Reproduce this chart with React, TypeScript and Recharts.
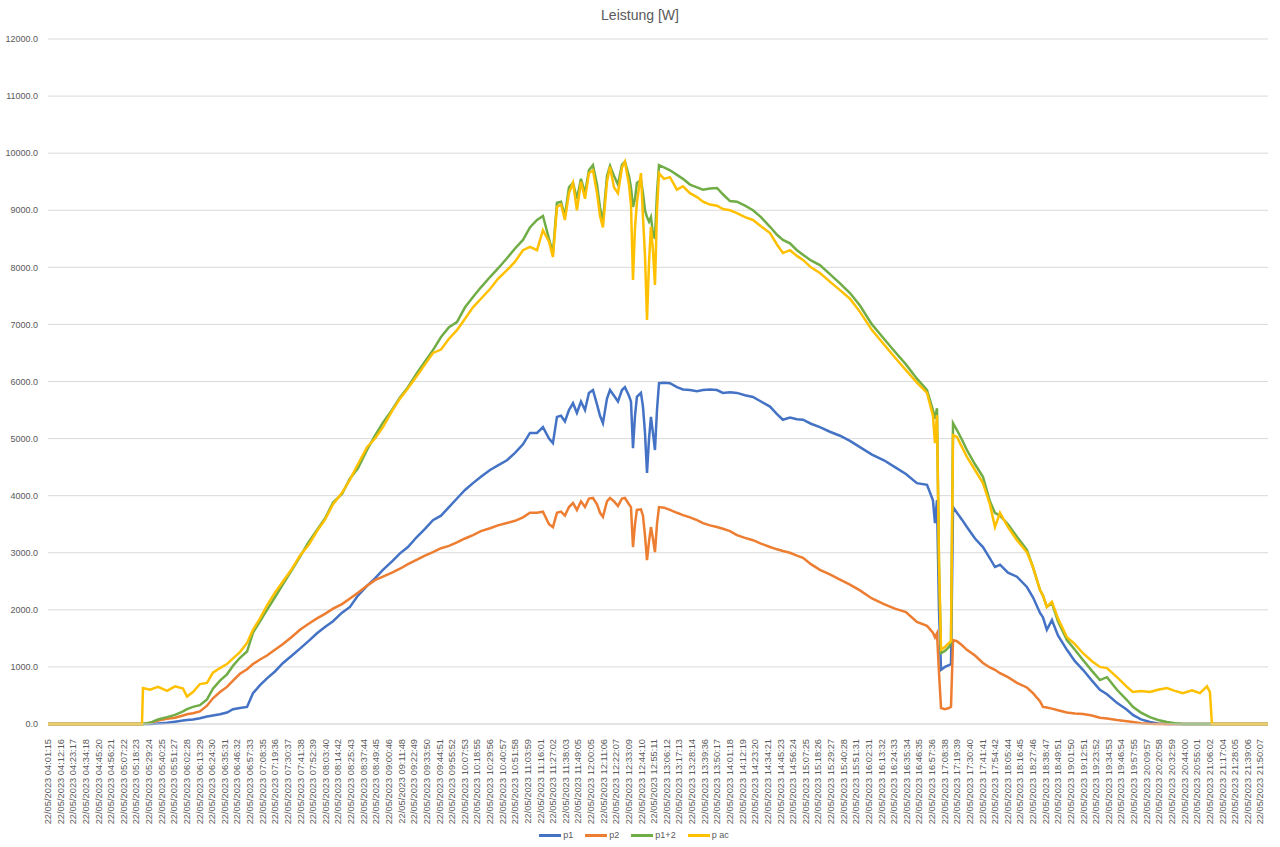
import { LineChart, Line, XAxis, YAxis, CartesianGrid, Legend } from 'recharts';

const tickLabels = [
  '04:01:15', '04:12:16', '04:23:17', '04:34:18', '04:45:20', '04:56:21', '05:07:22', '05:18:23',
  '05:29:24', '05:40:25', '05:51:27', '06:02:28', '06:13:29', '06:24:30', '06:35:31', '06:46:32',
  '06:57:33', '07:08:35', '07:19:36', '07:30:37', '07:41:38', '07:52:39', '08:03:40', '08:14:42',
  '08:25:43', '08:37:44', '08:49:45', '09:00:46', '09:11:48', '09:22:49', '09:33:50', '09:44:51',
  '09:55:52', '10:07:53', '10:18:55', '10:29:56', '10:40:57', '10:51:58', '11:03:59', '11:16:01',
  '11:27:02', '11:38:03', '11:49:05', '12:00:05', '12:11:06', '12:22:07', '12:33:09', '12:44:10',
  '12:55:11', '13:06:12', '13:17:13', '13:28:14', '13:39:36', '13:50:17', '14:01:18', '14:12:19',
  '14:23:20', '14:34:21', '14:45:23', '14:56:24', '15:07:25', '15:18:26', '15:29:27', '15:40:28',
  '15:51:31', '16:02:31', '16:13:32', '16:24:33', '16:35:34', '16:46:35', '16:57:36', '17:08:38',
  '17:19:39', '17:30:40', '17:41:41', '17:54:42', '18:05:44', '18:16:45', '18:27:46', '18:38:47',
  '18:49:51', '19:01:50', '19:12:51', '19:23:52', '19:34:53', '19:46:54', '19:57:55', '20:09:57',
  '20:20:58', '20:32:59', '20:44:00', '20:55:01', '21:06:02', '21:17:04', '21:28:05', '21:39:06',
  '21:50:07',
].map((t) => `22/05/2023 ${t}`);

// position of each sample, measured in tick-label slots (0 = first label)
const slot = [
  0, 7.44, 7.52, 8.08, 8.71, 9.42, 10.06, 10.69, 11.01, 11.48,
  12.03, 12.59, 13.06, 13.62, 14.17, 14.65, 15.2, 15.76, 16.23, 16.79,
  17.34, 17.97, 18.61, 19.32, 19.95, 20.67, 21.3, 21.93, 22.57, 23.28,
  23.91, 24.54, 25.26, 25.89, 26.52, 27.24, 27.87, 28.5, 29.22, 29.85,
  30.48, 31.12, 31.75, 32.38, 33.02, 33.65, 34.28, 35.0, 35.63, 36.34,
  36.98, 37.61, 38.16, 38.72, 39.19, 39.67, 39.98, 40.3, 40.62, 40.93,
  41.25, 41.57, 41.88, 42.2, 42.52, 42.83, 43.15, 43.47, 43.71, 43.94,
  44.26, 44.5, 44.82, 45.13, 45.45, 45.68, 46.0, 46.16, 46.32, 46.48,
  46.63, 46.95, 47.11, 47.27, 47.43, 47.59, 47.74, 47.9, 48.06, 48.22,
  48.38, 48.77, 49.25, 49.8, 50.28, 50.83, 51.39, 51.86, 52.42, 52.97,
  53.44, 54.0, 54.55, 55.19, 55.82, 56.45, 57.17, 57.72, 58.19, 58.75,
  59.3, 59.78, 60.41, 61.12, 61.91, 62.71, 63.5, 64.29, 65.24, 66.19,
  67.06, 67.93, 68.8, 69.6, 70.07, 70.23, 70.39, 70.55, 70.71, 71.02,
  71.34, 71.5, 71.66, 71.97, 72.37, 72.76, 73.4, 74.03, 74.58, 74.98,
  75.38, 76.01, 76.72, 77.51, 77.99, 78.54, 78.78, 79.09, 79.49, 79.97,
  80.68, 81.31, 81.95, 82.66, 83.29, 83.85, 84.64, 85.43, 85.9, 86.54,
  87.25, 87.89, 88.6, 89.23, 89.86, 90.58, 91.21, 91.77, 92.0, 92.16,
  96.6,
];

const p1 = [
  0, 0, 0, 0, 10, 20, 40, 60, 70, 80,
  100, 130, 150, 170, 200, 260, 280, 300, 540, 680,
  800, 920, 1070, 1200, 1320, 1460, 1590, 1700, 1800, 1950,
  2050, 2250, 2420, 2550, 2700, 2850, 2990, 3100, 3280, 3420,
  3570, 3650, 3800, 3950, 4100, 4220, 4330, 4450, 4530, 4620,
  4750, 4900, 5100, 5100, 5200, 5000, 4920, 5380, 5400, 5300,
  5500, 5620, 5450, 5650, 5500, 5800, 5850, 5600, 5400, 5270,
  5700, 5850, 5750, 5650, 5850, 5900, 5750, 5650, 4830, 5400,
  5730, 5800, 5560, 5100, 4400, 5000, 5380, 5100, 4800, 5500,
  5970, 5980, 5970, 5900, 5860, 5850, 5830, 5850, 5860, 5850,
  5800, 5810, 5800, 5760, 5730, 5650, 5560, 5430, 5330, 5370,
  5340, 5330, 5260, 5200, 5120, 5050, 4960, 4850, 4720, 4620,
  4500, 4380, 4220, 4190, 3920, 3520, 3920, 2000, 950, 1000,
  1030, 1050, 3800, 3700, 3580, 3450, 3250, 3100, 2900, 2750,
  2790, 2650, 2580, 2400, 2220, 1950, 1870, 1650, 1820, 1550,
  1300, 1100, 950, 760, 600, 520, 370, 250, 160, 80,
  35, 10, 0, 0, 0, 0, 0, 0, 0, 0,
  0,
];

const p2 = [
  0, 0, 0, 20, 60, 90, 110, 150, 170, 190,
  220, 320, 450, 560, 650, 760, 880, 960, 1050, 1130,
  1200, 1300, 1400, 1530, 1650, 1760, 1850, 1930, 2020, 2100,
  2200, 2300, 2420, 2520, 2580, 2650, 2720, 2800, 2880, 2950,
  3010, 3080, 3120, 3180, 3250, 3310, 3380, 3430, 3480, 3520,
  3560, 3620, 3700, 3700, 3720, 3500, 3450, 3700, 3720, 3650,
  3800, 3870, 3750, 3900, 3800, 3950, 3960, 3850, 3700, 3630,
  3900, 3960, 3900, 3820, 3950, 3960, 3850, 3800, 3100, 3500,
  3750, 3760, 3650, 3300, 2870, 3200, 3450, 3250, 3010, 3500,
  3800, 3790, 3750, 3700, 3660, 3620, 3570, 3520, 3480, 3450,
  3420, 3380, 3310, 3260, 3220, 3160, 3100, 3060, 3030, 3000,
  2950, 2910, 2800, 2700, 2620, 2530, 2440, 2340, 2200, 2100,
  2020, 1960, 1790, 1720, 1600, 1520, 1590, 900, 280, 260,
  280, 300, 1470, 1450, 1380, 1300, 1200, 1070, 990, 950,
  890, 820, 720, 640, 540, 400, 300, 290, 270, 240,
  200, 185, 175, 150, 110, 95, 70, 50, 35, 15,
  5, 0, 0, 0, 0, 0, 0, 0, 0, 0,
  0,
];

const p12 = [
  0, 0, 0, 20, 80, 120, 160, 220, 260, 300,
  330, 430, 620, 760, 870, 1020, 1160, 1270, 1600, 1800,
  2000, 2220, 2450, 2700, 2930, 3200, 3400, 3600, 3880, 4030,
  4300, 4480, 4800, 5050, 5280, 5500, 5720, 5900, 6150, 6350,
  6550, 6780, 6950, 7040, 7300, 7480, 7650, 7830, 7980, 8160,
  8330, 8480, 8700, 8830, 8900, 8500, 8250, 9130, 9150, 8900,
  9400, 9480, 9200, 9550, 9300, 9700, 9790, 9450, 9050, 8800,
  9600, 9780, 9600, 9450, 9800, 9850, 9600, 9400, 9060, 9200,
  9480, 9530, 9300, 9000, 8880, 8800, 8880, 8600, 8500, 9300,
  9790, 9750, 9700, 9620, 9550, 9450, 9400, 9360, 9380, 9390,
  9280, 9160, 9150, 9080, 9000, 8880, 8710, 8570, 8480, 8420,
  8300, 8220, 8120, 8040, 7880, 7720, 7550, 7330, 7000, 6750,
  6520, 6300, 6050, 5850, 5500, 5350, 5530, 2800, 1240, 1280,
  1350, 1420, 5270, 5150, 4980, 4800, 4550, 4330, 3900, 3700,
  3650, 3500, 3280, 3050, 2750, 2350, 2250, 2050, 2120, 1800,
  1470, 1300, 1120, 930, 770, 820, 600, 420, 300, 200,
  120, 70, 35, 15, 0, 0, 0, 0, 0, 0,
  0,
];

const pac = [
  0, 0, 630, 600, 650, 580, 660, 620, 480, 560,
  700, 720, 900, 980, 1050, 1150, 1260, 1420, 1650, 1850,
  2080, 2300, 2500, 2720, 2950, 3150, 3380, 3580, 3850, 4050,
  4280, 4550, 4850, 5000, 5200, 5480, 5700, 5880, 6100, 6300,
  6500, 6560, 6750, 6900, 7100, 7300, 7450, 7620, 7800, 7950,
  8100, 8300, 8360, 8300, 8650, 8450, 8180, 9060, 9100, 8830,
  9300, 9480, 9000, 9500, 9200, 9650, 9700, 9300, 8900, 8700,
  9500, 9760, 9400, 9300, 9750, 9850, 9450, 9100, 7780, 8700,
  9130, 9650, 8880, 8200, 7080, 8100, 8710, 8300, 7690, 9000,
  9650, 9550, 9580, 9360, 9420, 9300, 9230, 9150, 9100, 9080,
  9020, 9000, 8950, 8880, 8830, 8720, 8600, 8400, 8250, 8300,
  8200, 8130, 8000, 7900, 7750, 7600, 7450, 7220, 6900, 6650,
  6420, 6200, 5980, 5800, 5400, 4920, 5410, 2800, 1300, 1350,
  1420, 1450, 5060, 5030, 4850, 4680, 4450, 4220, 3850, 3450,
  3700, 3450, 3220, 3010, 2750, 2350, 2250, 2050, 2140, 1850,
  1520, 1400, 1240, 1100, 1000, 980, 820, 650, 560, 580,
  560, 600, 630, 580, 540, 590, 540, 660, 560, 0,
  0,
];

const yTicks = [0, 1000, 2000, 3000, 4000, 5000, 6000, 7000, 8000, 9000, 10000, 11000, 12000];

const series = [
  { key: 'p1', name: 'p1', color: '#4472C4' },
  { key: 'p2', name: 'p2', color: '#ED7D31' },
  { key: 'p12', name: 'p1+2', color: '#70AD47' },
  { key: 'pac', name: 'p ac', color: '#FFC000' },
];

const data = slot.map((s, i) => ({ slot: s, p1: p1[i], p2: p2[i], p12: p12[i], pac: pac[i] }));

const FONT = '"Liberation Sans", Arial, sans-serif';
const GREY = '#595959';

function TimeTick({ x, y, payload }: any) {
  return (
    <text
      x={x}
      y={y + 7}
      transform={`rotate(-90 ${x} ${y + 7})`}
      textAnchor="end"
      dominantBaseline="central"
      fontSize={9.3}
      fontFamily={FONT}
      fill={GREY}
    >
      {tickLabels[payload.value]}
    </text>
  );
}

function LegendRow() {
  return (
    <div style={{ display: 'flex', justifyContent: 'center', alignItems: 'center', height: 24, fontFamily: FONT, fontSize: 9, color: GREY }}>
      {series.map((s) => (
        <div key={s.key} style={{ display: 'flex', alignItems: 'center', margin: '0 6px' }}>
          <span style={{ display: 'inline-block', width: 22, height: 3, background: s.color, marginRight: 2 }} />
          <span>{s.name}</span>
        </div>
      ))}
    </div>
  );
}

export default function App() {
  return (
    <div style={{ position: 'relative', width: 1280, height: 847, background: '#fff' }}>
      <style>{'body{margin:0}'}</style>
      <div
        style={{
          position: 'absolute', top: 7, left: 0, width: 1280, textAlign: 'center',
          fontFamily: FONT, fontSize: 14, color: GREY, zIndex: 1,
        }}
      >
        Leistung [W]
      </div>
      <LineChart width={1280} height={847} data={data} margin={{ top: 39, right: 12, left: 0, bottom: 0 }}>
        <CartesianGrid vertical={false} stroke="#d9d9d9" />
        <XAxis
          type="number"
          dataKey="slot"
          domain={[0, 96.6]}
          ticks={tickLabels.map((_, i) => i)}
          interval={0}
          tick={<TimeTick />}
          tickLine={false}
          axisLine={{ stroke: '#d9d9d9' }}
          height={99}
          allowDataOverflow
        />
        <YAxis
          type="number"
          domain={[0, 12000]}
          ticks={yTicks}
          interval={0}
          tickFormatter={(v: number) => v.toFixed(1)}
          tick={{ fontSize: 9, fill: GREY, fontFamily: FONT }}
          tickLine={false}
          axisLine={false}
          tickSize={0}
          tickMargin={10}
          width={48}
        />
        <Legend verticalAlign="bottom" height={24} content={() => <LegendRow />} />
        {series.map((s) => (
          <Line
            key={s.key}
            type="linear"
            dataKey={s.key}
            name={s.name}
            stroke={s.color}
            strokeWidth={2.5}
            dot={false}
            isAnimationActive={false}
          />
        ))}
      </LineChart>
    </div>
  );
}
